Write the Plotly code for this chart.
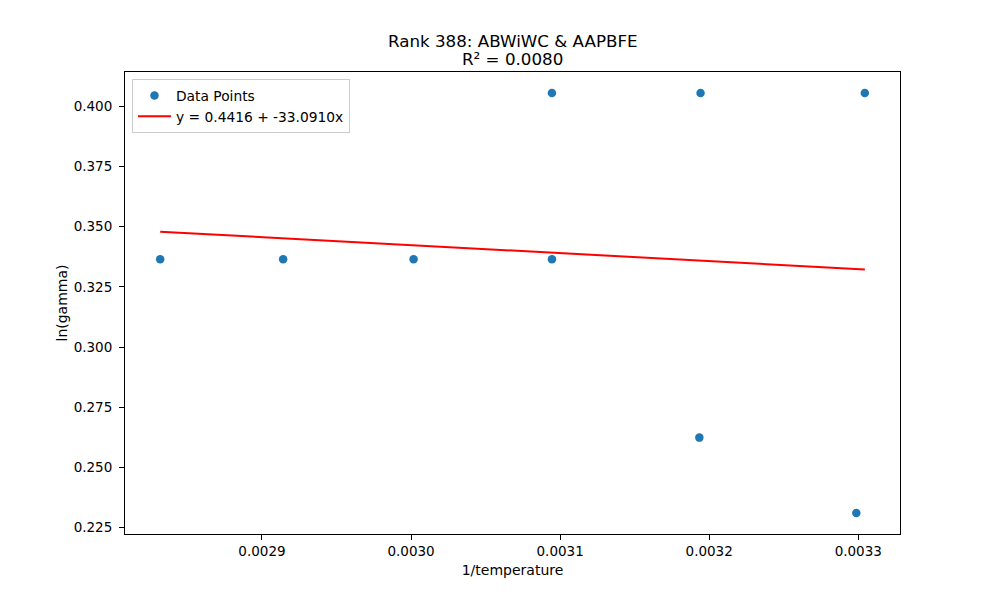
import numpy as np
import plotly.graph_objects as go

# Data
inv_temperature = [0.0028317, 0.0029142, 0.0030017, 0.0030945, 0.0030945,
                   0.0031942, 0.0031934, 0.0033044, 0.0032987]
ln_gamma = [0.3365, 0.3365, 0.3365, 0.3365, 0.4055,
            0.4055, 0.2624, 0.4055, 0.2311]
intercept = 0.4416
slope = -33.0910
r_squared = 0.0080
title_line1 = "Rank 388: ABWiWC &amp; AAPBFE"
title_line2 = f"R² = {r_squared:.4f}"
x_ticks = [0.0029, 0.0030, 0.0031, 0.0032, 0.0033]
y_ticks = [0.225, 0.250, 0.275, 0.300, 0.325, 0.350, 0.375, 0.400]

x_arr = np.array(sorted(inv_temperature))
y_fit = intercept + slope * x_arr

font = "DejaVu Sans"
fig = go.Figure()
fig.add_trace(go.Scatter(
    x=inv_temperature, y=ln_gamma, mode="markers", name="Data Points",
    marker=dict(color="#1f77b4", size=8.5, line=dict(width=0)),
))
fig.add_trace(go.Scatter(
    x=x_arr, y=y_fit, mode="lines",
    name=f"y = {intercept:.4f} + {slope:.4f}x",
    line=dict(color="red", width=2),
))

axis_common = dict(
    showgrid=False, zeroline=False, showline=True, linecolor="black",
    linewidth=1, mirror=True, ticks="outside", ticklen=5, tickwidth=1,
    tickcolor="black", tickfont=dict(family=font, size=13.5, color="black"),
)
plot_h = 462
fig.update_layout(
    width=992, height=592,
    margin=dict(l=117, r=100, t=64, b=66),
    paper_bgcolor="white", plot_bgcolor="white",
    font=dict(family=font, color="black"),
    annotations=[
        dict(text=title_line1, x=0.5, y=1 + (72 - 41) / plot_h, xref="paper",
             yref="paper", xanchor="center", yanchor="middle", showarrow=False,
             font=dict(family=font, size=16.7, color="black")),
        dict(text=title_line2, x=0.5, y=1 + (72 - 59) / plot_h, xref="paper",
             yref="paper", xanchor="center", yanchor="middle", showarrow=False,
             font=dict(family=font, size=16.7, color="black")),
    ],
    xaxis=dict(range=[0.0028081, 0.003328], tickvals=x_ticks,
               ticktext=[f"{v:.4f}" for v in x_ticks],
               title=dict(text="1/temperature", standoff=6,
                          font=dict(family=font, size=14)),
               **axis_common),
    yaxis=dict(range=[0.22238, 0.41422], tickvals=y_ticks,
               ticktext=[f"{v:.3f}" for v in y_ticks],
               ticklabelstandoff=4,
               title=dict(text="ln(gamma)", standoff=2,
                          font=dict(family=font, size=14)),
               **axis_common),
    legend=dict(x=0.009, y=0.985, xanchor="left", yanchor="top",
                bgcolor="rgba(255,255,255,0.8)", bordercolor="#cccccc",
                borderwidth=1, font=dict(family=font, size=13.8),
                itemwidth=33, tracegroupgap=0),
    showlegend=True,
)
fig.write_html("out.html")
